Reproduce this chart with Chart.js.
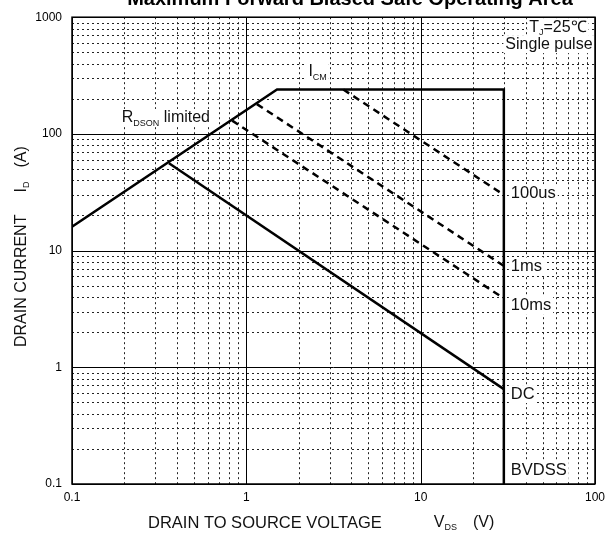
<!DOCTYPE html>
<html>
<head>
<meta charset="utf-8">
<script src="https://cdn.jsdelivr.net/npm/chart.js@4.4.1/dist/chart.umd.min.js"></script>
<style>
  html, body { margin: 0; padding: 0; background: #fff; }
</style>
</head>
<body>
<canvas id="soa" width="611" height="542"></canvas>
<script>
// SOA boundaries: V_DS in volts, I_D in amps
const limitV = [0.1, 1.5, 30, 30];      // R_DSON line, I_CM plateau, BVDSS drop
const limitI = [16, 240, 240, 0.1];
const us100V = [3.6, 30];
const us100I = [240, 30];
const ms1V = [1.15, 30];
const ms1I = [180, 7.4];
const ms10V = [0.83, 30];
const ms10I = [130, 3.9];
const dcV = [0.36, 30];
const dcI = [56, 0.65];

const xTicks = [0.1, 1, 10, 100];
const yTicks = [0.1, 1, 10, 100, 1000];

const FONT = '"Liberation Sans", Arial, sans-serif';

const pts = (v, i) => v.map((x, k) => ({ x: x, y: i[k] }));

function line(data, dashed) {
  return {
    data: data,
    showLine: true,
    borderColor: "#000",
    borderWidth: 2.5,
    borderDash: dashed ? [7, 5] : [],
    pointRadius: 0,
    tension: 0,
    fill: false,
  };
}

// text runs with subscripts: [{t, s, dy}]
function richWidth(ctx, parts) {
  let w = 0;
  parts.forEach(p => {
    ctx.font = (p.s || 16) + "px " + FONT;
    w += (p.gap || 0) + ctx.measureText(p.t).width;
  });
  return w;
}

function drawRich(ctx, x, y, parts, align, bg) {
  const w = richWidth(ctx, parts);
  let cx = align === "right" ? x - w : align === "center" ? x - w / 2 : x;
  if (bg) {
    ctx.fillStyle = "#fff";
    ctx.fillRect(cx - 2, y - 9, w + 4, 18);
  }
  ctx.fillStyle = "#111";
  ctx.textBaseline = "middle";
  ctx.textAlign = "left";
  parts.forEach(p => {
    ctx.font = (p.s || 16) + "px " + FONT;
    cx += p.gap || 0;
    ctx.fillText(p.t, cx, y + (p.dy || 0));
    cx += ctx.measureText(p.t).width;
  });
}

// decade + dotted minor grid, plot frame
const gridPlugin = {
  id: "soaGrid",
  beforeDatasetsDraw(chart) {
    const { ctx, chartArea: a, scales } = chart;
    const xs = scales.x, ys = scales.y;
    ctx.save();
    ctx.strokeStyle = "#222";
    ctx.lineWidth = 1;
    ctx.setLineDash([2, 3]);
    for (let d = 0.1; d < 100; d *= 10) {
      for (let m = 2; m <= 9; m++) {
        const px = Math.round(xs.getPixelForValue(d * m)) + 0.5;
        ctx.beginPath(); ctx.moveTo(px, a.top); ctx.lineTo(px, a.bottom); ctx.stroke();
      }
    }
    for (let d = 0.1; d < 1000; d *= 10) {
      for (let m = 2; m <= 9; m++) {
        const py = Math.round(ys.getPixelForValue(d * m)) + 0.5;
        ctx.beginPath(); ctx.moveTo(a.left, py); ctx.lineTo(a.right, py); ctx.stroke();
      }
    }
    ctx.setLineDash([]);
    ctx.strokeStyle = "#000";
    ctx.lineWidth = 1;
    xTicks.forEach(v => {
      const px = Math.round(xs.getPixelForValue(v)) + 0.5;
      ctx.beginPath(); ctx.moveTo(px, a.top); ctx.lineTo(px, a.bottom); ctx.stroke();
    });
    yTicks.forEach(v => {
      const py = Math.round(ys.getPixelForValue(v)) + 0.5;
      ctx.beginPath(); ctx.moveTo(a.left, py); ctx.lineTo(a.right, py); ctx.stroke();
    });
    ctx.restore();
  },
  afterDatasetsDraw(chart) {
    const { ctx, chartArea: a, scales } = chart;
    const xs = scales.x, ys = scales.y;
    ctx.save();
    const at = (v, i) => [xs.getPixelForValue(v), ys.getPixelForValue(i)];
    const endX = xs.getPixelForValue(30) + 7;

    // curve labels at the 30 V edge
    [["100us", 31], ["1ms", 7.3], ["10ms", 3.4], ["DC", 0.59], ["BVDSS", 0.13]].forEach(([t, i]) => {
      drawRich(ctx, endX, ys.getPixelForValue(i), [{ t: t, s: 16.5 }], "left", true);
    });

    let p = at(89.5, 822);
    drawRich(ctx, p[0], p[1], [{ t: "T" }, { t: "J", s: 9, dy: 5 }, { t: "=25\u2103" }], "right", true);
    p = at(96.8, 588);
    drawRich(ctx, p[0], p[1], [{ t: "Single pulse" }], "right", true);
    p = at(2.27, 345);
    drawRich(ctx, p[0], p[1], [{ t: "I" }, { t: "CM", s: 9, dy: 6 }], "left", true);
    p = at(0.193, 137);
    drawRich(ctx, p[0], p[1], [{ t: "R" }, { t: "DSON", s: 9, dy: 6 }, { t: " limited" }], "left", true);

    // frame
    ctx.strokeStyle = "#000";
    ctx.lineWidth = 1.5;
    ctx.strokeRect(a.left, a.top, a.right - a.left, a.bottom - a.top);

    // axis titles
    drawRich(ctx, 148, 523, [
      { t: "DRAIN TO SOURCE VOLTAGE", s: 16.5 },
      { t: "V", gap: 52 },
      { t: "DS", s: 9, dy: 5 },
      { t: "(V)", gap: 16 },
    ], "left", false);

    ctx.translate(22, 0);
    ctx.rotate(-Math.PI / 2);
    drawRich(ctx, -347, 0, [
      { t: "DRAIN CURRENT" },
      { t: "I", gap: 22 },
      { t: "D", s: 9, dy: 5 },
      { t: "(A)", gap: 14 },
    ], "left", false);
    ctx.restore();

    // chart heading, mostly above the canvas edge
    ctx.save();
    ctx.font = "bold 20px " + FONT;
    ctx.fillStyle = "#000";
    ctx.textAlign = "center";
    ctx.textBaseline = "alphabetic";
    ctx.fillText("Maximum Forward Biased Safe Operating Area", 350, 5);
    ctx.restore();
  },
};

new Chart(document.getElementById("soa").getContext("2d"), {
  type: "scatter",
  data: {
    datasets: [
      line(pts(limitV, limitI), false),
      line(pts(dcV, dcI), false),
      line(pts(us100V, us100I), true),
      line(pts(ms1V, ms1I), true),
      line(pts(ms10V, ms10I), true),
    ],
  },
  options: {
    responsive: false,
    animation: false,
    layout: { padding: { top: 17, right: 14, left: 0, bottom: 0 } },
    plugins: {
      legend: { display: false },
      tooltip: { enabled: false },
    },
    scales: {
      x: {
        type: "logarithmic",
        min: 0.1,
        max: 100,
        grid: { display: false, drawTicks: false },
        border: { display: false },
        afterBuildTicks: s => { s.ticks = xTicks.map(v => ({ value: v })); },
        afterFit: s => { s.height = 58; },
        ticks: {
          autoSkip: false,
          maxRotation: 0,
          padding: 6,
          color: "#000",
          font: { family: FONT, size: 12 },
          callback: v => String(v),
        },
      },
      y: {
        type: "logarithmic",
        min: 0.1,
        max: 1000,
        grid: { display: false, drawTicks: false },
        border: { display: false },
        afterBuildTicks: s => { s.ticks = yTicks.map(v => ({ value: v })); },
        afterFit: s => { s.width = 72; },
        ticks: {
          autoSkip: false,
          padding: 10,
          color: "#000",
          font: { family: FONT, size: 12 },
          callback: v => String(v),
        },
      },
    },
  },
  plugins: [gridPlugin],
});
</script>
</body>
</html>
